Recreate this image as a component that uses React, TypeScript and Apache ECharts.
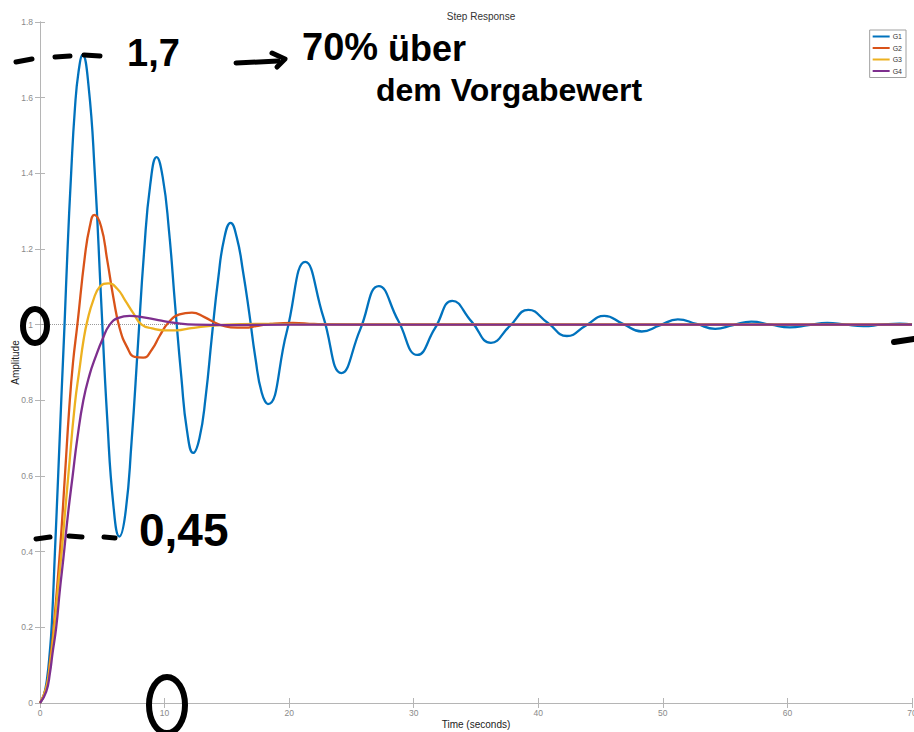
import React, { useEffect, useRef } from "react";
import * as echarts from "echarts";

// ---- Data (time in seconds, amplitude) ----
const seriesNames = ["G1", "G2", "G3", "G4"];
const seriesColors = ["#0072BD", "#D95319", "#EDB120", "#7E2F8E"];

const xTicks = { min: 0, max: 70, interval: 10 };
const yTicks = { min: 0, max: 1.8, interval: 0.2 };

const g1Time = [
  0, 0.3, 0.55, 0.8, 0.95, 1.2, 1.47, 1.72, 1.97, 2.2, 2.5, 2.8, 3.1, 3.42, 3.9, 4.4, 4.9, 5.4, 5.9, 6.37,
  6.85, 7.35, 7.87, 8.35, 8.85, 9.36, 9.85, 10.35, 10.85, 11.35, 11.8, 12.3, 12.8, 13.3, 13.8, 14.3, 14.8,
  15.3, 15.8, 16.3, 16.8, 17.3, 17.8, 18.3, 19.8, 21.3, 22.75, 24.2, 25.7, 27.2, 28.75, 30.3, 31.7, 33.1,
  34.65, 36.2, 37.7, 39.2, 40.75, 42.3, 43.8, 45.3, 46.8, 48.3, 49.75, 51.2, 52.7, 54.2, 55.65, 57.1, 58.65,
  60.2, 61.7, 63.2, 64.65, 66.1, 67.55, 69.0, 70,
];
const g1Amp = [
  0, 0.02, 0.06, 0.14, 0.21, 0.4, 0.61, 0.81, 1.0, 1.19, 1.4, 1.57, 1.67, 1.713, 1.63, 1.4, 1.07, 0.75, 0.52, 0.44,
  0.5, 0.69, 0.95, 1.19, 1.37, 1.443, 1.39, 1.25, 1.05, 0.86, 0.72, 0.661, 0.7, 0.81, 0.97, 1.12, 1.23,
  1.269, 1.23, 1.14, 1.03, 0.91, 0.82, 0.79, 0.98, 1.166, 1.02, 0.872, 0.987, 1.102, 1.011, 0.92, 0.99, 1.063,
  1.008, 0.952, 0.996, 1.039, 1.005, 0.97, 0.997, 1.023, 1.002, 0.982, 0.998, 1.014, 1.002, 0.989, 0.999, 1.008, 1.0,
  0.993, 0.999, 1.005, 1.0, 0.996, 1.0, 1.003, 1.001,
];

const g2Time = [
  0, 0.5, 0.8, 1.1, 1.6, 2.0, 2.35, 2.65, 3.0, 3.6, 4.0, 4.36, 4.9, 5.4, 5.9, 6.4, 7.0, 7.6, 8.29, 9.0, 9.6,
  10.3, 11.2, 12.2, 13.2, 14.2, 15.3, 16.4, 17.5, 18.5, 20.3, 22, 25, 70,
];
const g2Amp = [
  0, 0.04, 0.11, 0.2, 0.4, 0.6, 0.78, 0.9, 1.0, 1.18, 1.26, 1.29, 1.26, 1.17, 1.07, 0.99, 0.94, 0.915, 0.913,
  0.935, 0.97, 1.005, 1.027, 1.032, 1.02, 1.003, 0.993, 0.992, 0.997, 1.002, 1.005, 1.002, 1.0, 1.0,
];

const g3Time = [
  0, 0.5, 0.8, 1.15, 1.4, 1.74, 2.0, 2.27, 2.8, 3.16, 3.5, 3.8, 4.28, 4.8, 5.48, 6.2, 6.82, 7.5, 8.16, 9.0,
  10, 11, 12, 13.5, 15, 18, 22, 70,
];
const g3Amp = [
  0, 0.04, 0.1, 0.2, 0.29, 0.4, 0.5, 0.6, 0.79, 0.88, 0.96, 1.01, 1.065, 1.1, 1.109, 1.095, 1.065, 1.03, 1.0,
  0.99, 0.985, 0.985, 0.99, 0.996, 1.0, 1.002, 1.001, 1.0,
];

const g4Time = [
  0, 0.5, 0.8, 1.0, 1.3, 1.6, 1.87, 2.25, 2.62, 3.0, 3.48, 4.0, 4.41, 5.0, 5.6, 6.3, 7.2, 8.2, 9.5, 11, 12.5,
  15, 20, 70,
];
const g4Amp = [
  0, 0.03, 0.08, 0.13, 0.2, 0.3, 0.38, 0.5, 0.6, 0.7, 0.8, 0.87, 0.91, 0.96, 1.0, 1.018, 1.023, 1.02, 1.012,
  1.004, 1.0, 0.999, 1.0, 1.0,
];

const steadyStateValue = 1;

const times = [g1Time, g2Time, g3Time, g4Time];
const amps = [g1Amp, g2Amp, g3Amp, g4Amp];

const HAND = "'Liberation Sans', Arial, sans-serif";

export default function App() {
  const ref = useRef<HTMLDivElement>(null);

  useEffect(() => {
    if (!ref.current) return;
    const chart = echarts.init(ref.current, undefined, { renderer: "svg" });

    const axisLineStyle = { color: "#b5b5b5", width: 1 };
    const labelStyle = { color: "#8a8a8a", fontSize: 8.5, fontFamily: "'Liberation Sans', Arial, sans-serif" };

    const series: any[] = seriesNames.map((name, i) => ({
      name,
      type: "line",
      data: times[i].map((t, j) => [t, amps[i][j]]),
      showSymbol: false,
      symbol: "none",
      smooth: 0.5,
      lineStyle: { color: seriesColors[i], width: 2.3 },
      itemStyle: { color: seriesColors[i] },
      z: 2 + i,
      ...(i === 0
        ? {
            markLine: {
              silent: true,
              symbol: "none",
              label: { show: false },
              lineStyle: { type: "dotted", color: "#9a9a9a", width: 1 },
              data: [{ yAxis: steadyStateValue }],
              z: 1,
            },
          }
        : {}),
    }));

    const hLine = (x1: number, y1: number, x2: number, y2: number, w = 5) => ({
      type: "line",
      shape: { x1, y1, x2, y2 },
      style: { stroke: "#000", lineWidth: w, lineCap: "round" },
      z: 100,
    });
    const hText = (x: number, y: number, text: string, size: number) => ({
      type: "text",
      x,
      y,
      style: {
        text,
        fill: "#000",
        fontSize: size,
        fontWeight: "bold",
        fontFamily: HAND,
        align: "left",
        verticalAlign: "top",
      },
      z: 100,
    });

    chart.setOption({
      animation: false,
      backgroundColor: "#ffffff",
      textStyle: { fontFamily: "'Liberation Sans', Arial, sans-serif" },
      title: {
        text: "Step Response",
        left: 476,
        textAlign: "center",
        top: 6,
        textStyle: { fontSize: 10, fontWeight: "normal", color: "#333" },
      },
      legend: {
        data: seriesNames,
        orient: "vertical",
        right: 8,
        top: 30,
        icon: "rect",
        itemWidth: 17,
        itemHeight: 2,
        itemGap: 4.5,
        padding: [3, 4, 3, 3],
        borderColor: "#a0a0a0",
        borderWidth: 1,
        backgroundColor: "#fff",
        textStyle: { fontSize: 7, color: "#333", padding: [0, 0, 0, -2] },
      },
      grid: { left: 40, right: 2, top: 22, bottom: 29, containLabel: false, outerBoundsMode: "none" },
      xAxis: [
        {
          type: "value",
          min: xTicks.min,
          max: xTicks.max,
          interval: xTicks.interval,
          name: "Time (seconds)",
          nameLocation: "middle",
          nameGap: 16,
          nameMoveOverlap: false,
          nameTextStyle: { fontSize: 10, color: "#222" },
          axisLine: { show: true, lineStyle: axisLineStyle },
          axisTick: { show: true, inside: true, length: 5, lineStyle: axisLineStyle },
          axisLabel: { ...labelStyle, margin: 5, hideOverlap: false },
          splitLine: { show: false },
        },
        {
          type: "value",
          position: "top",
          min: xTicks.min,
          max: xTicks.max,
          interval: xTicks.interval,
          axisLine: { show: true, lineStyle: axisLineStyle },
          axisTick: { show: true, inside: true, length: 5, lineStyle: axisLineStyle },
          axisLabel: { show: false },
          splitLine: { show: false },
        },
      ],
      yAxis: [
        {
          type: "value",
          min: yTicks.min,
          max: yTicks.max,
          interval: yTicks.interval,
          name: "Amplitude",
          nameLocation: "middle",
          nameGap: 20,
          nameMoveOverlap: false,
          nameRotate: 90,
          nameTextStyle: { fontSize: 10, color: "#222" },
          axisLine: { show: true, lineStyle: axisLineStyle },
          axisTick: { show: true, inside: true, length: 5, lineStyle: axisLineStyle },
          axisLabel: { ...labelStyle, margin: 7 },
          splitLine: { show: false },
        },
        {
          type: "value",
          position: "right",
          min: yTicks.min,
          max: yTicks.max,
          interval: yTicks.interval,
          axisLine: { show: true, lineStyle: axisLineStyle },
          axisTick: { show: true, inside: true, length: 5, lineStyle: axisLineStyle },
          axisLabel: { show: false },
          splitLine: { show: false },
        },
      ],
      series,
      graphic: [
        // handwritten annotations
        hLine(16, 62, 32, 59),
        hLine(55, 57, 70, 56),
        hLine(84, 55, 100, 56),
        hText(127, 34, "1,7", 38),
        hLine(236, 63, 278, 61),
        {
          type: "polyline",
          shape: { points: [[272, 53], [285, 59], [277, 67]] },
          style: { stroke: "#000", lineWidth: 5, lineCap: "round", lineJoin: "round", fill: "none" },
          z: 100,
        },
        hText(302, 28, "70%", 38),
        hText(388, 30, "über", 36),
        hText(376, 74, "dem Vorgabewert", 32),
        hLine(36, 539, 50, 537),
        hLine(69, 536, 82, 537),
        hLine(104, 537, 115, 538),
        hText(139, 507, "0,45", 46),
        {
          type: "ellipse",
          shape: { cx: 35, cy: 326, rx: 12, ry: 17 },
          style: { fill: "none", stroke: "#000", lineWidth: 6 },
          z: 100,
        },
        {
          type: "ellipse",
          shape: { cx: 167, cy: 705, rx: 18, ry: 28 },
          style: { fill: "none", stroke: "#000", lineWidth: 6 },
          z: 100,
        },
        hLine(894, 342, 914, 339, 6),
      ],
    });

    return () => chart.dispose();
  }, []);

  return (
    <div
      ref={ref}
      style={{ position: "fixed", left: 0, top: 0, width: 914, height: 732, background: "#fff" }}
    />
  );
}
